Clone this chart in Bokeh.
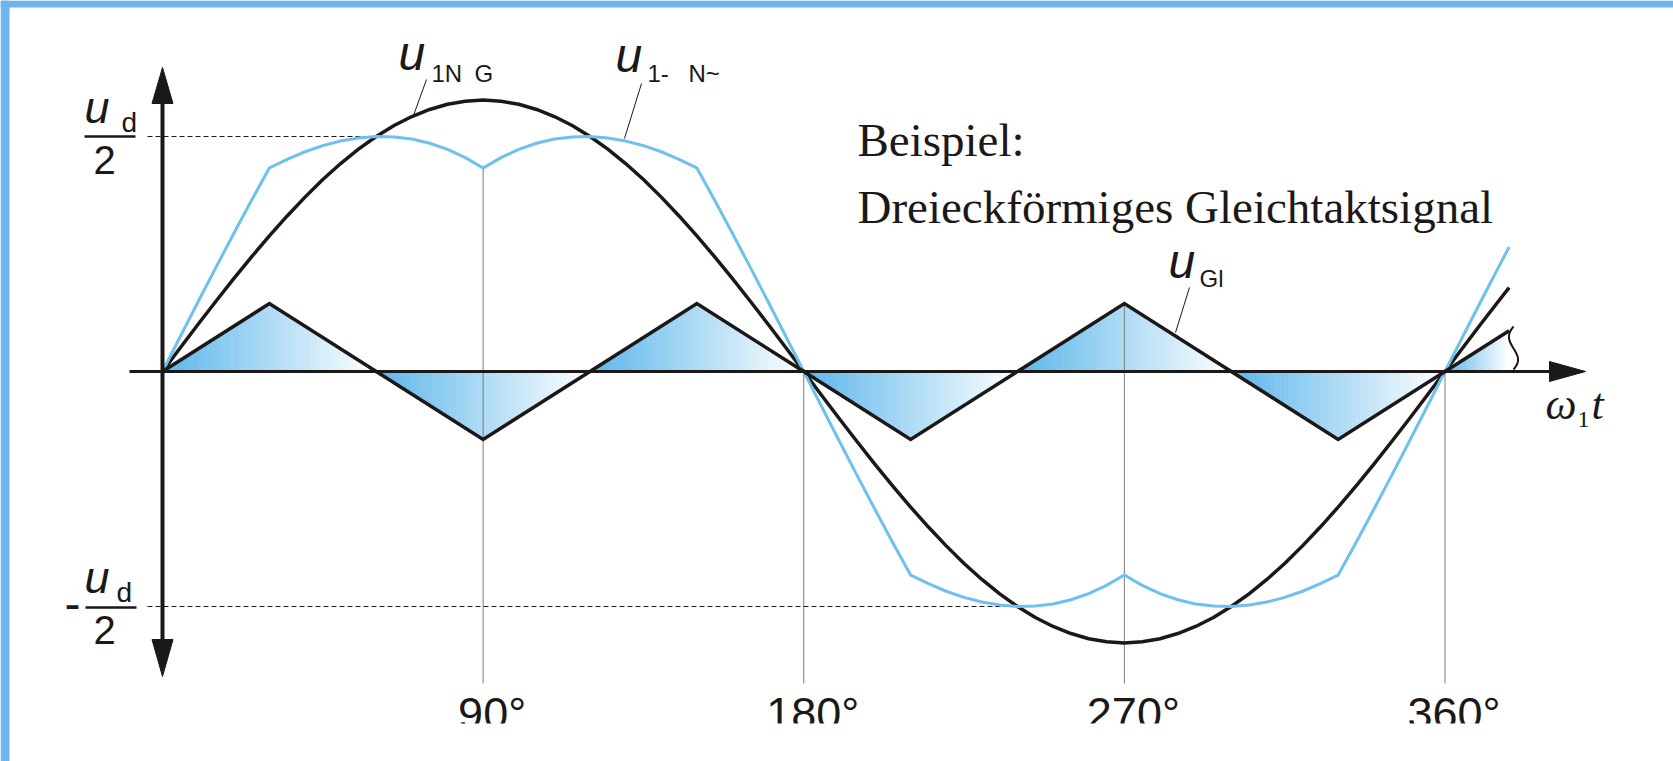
import numpy as np
from bokeh.plotting import figure
from bokeh.models import Range1d
from bokeh.core.properties import value
from bokeh.embed import file_html
from bokeh.resources import INLINE

# ---------------------------------------------------------------- data
# angle omega1*t in degrees
ANGLE = list(range(0, 380, 5)) + [378]

# phase voltage to virtual neutral G, in units of u_d/2
U_1NG = [0.000, 0.101, 0.201, 0.299, 0.395, 0.488, 0.577, 0.662, 0.742, 0.817,
         0.885, 0.946, 1.000, 1.047, 1.085, 1.115, 1.137, 1.150, 1.155, 1.150,
         1.137, 1.115, 1.085, 1.047, 1.000, 0.946, 0.885, 0.817, 0.742, 0.662,
         0.577, 0.488, 0.395, 0.299, 0.201, 0.101, 0.000,
         -0.101, -0.201, -0.299, -0.395, -0.488, -0.577, -0.662, -0.742, -0.817,
         -0.885, -0.946, -1.000, -1.047, -1.085, -1.115, -1.137, -1.150, -1.155,
         -1.150, -1.137, -1.115, -1.085, -1.047, -1.000, -0.946, -0.885, -0.817,
         -0.742, -0.662, -0.577, -0.488, -0.395, -0.299, -0.201, -0.101, 0.000,
         0.101, 0.201, 0.299, 0.357]

# resulting phase voltage u_1-N~ (sine plus common-mode triangle)
U_1N = [0.000, 0.149, 0.297, 0.443, 0.587, 0.729, 0.866, 0.903, 0.935, 0.961,
        0.981, 0.994, 1.000, 0.998, 0.989, 0.971, 0.945, 0.910, 0.866, 0.910,
        0.945, 0.971, 0.989, 0.998, 1.000, 0.994, 0.981, 0.961, 0.935, 0.903,
        0.866, 0.729, 0.587, 0.443, 0.297, 0.149, 0.000,
        -0.149, -0.297, -0.443, -0.587, -0.729, -0.866, -0.903, -0.935, -0.961,
        -0.981, -0.994, -1.000, -0.998, -0.989, -0.971, -0.945, -0.910, -0.866,
        -0.910, -0.945, -0.971, -0.989, -0.998, -1.000, -0.994, -0.981, -0.961,
        -0.935, -0.903, -0.866, -0.729, -0.587, -0.443, -0.297, -0.149, 0.000,
        0.149, 0.297, 0.443, 0.530]

# triangular common-mode signal u_Gl (corner points)
TRI_DEG = [0, 30, 60, 90, 120, 150, 180, 210, 240, 270, 300, 330, 360, 378]
U_GL = [0.0, 0.289, 0.0, -0.289, 0.0, 0.289, 0.0, -0.289, 0.0, 0.289, 0.0,
        -0.289, 0.0, 0.173]

TICK_DEG = [90, 180, 270, 360]
TICK_LABELS = ["90°", "180°", "270°", "360°"]
UD_HALF = 1.0

# ---------------------------------------------------------------- layout
W, H = 1673, 761
X0, Y0 = 162, 371          # pixel position of the origin
PX_PER_DEG = 3.5625
PX_PER_UNIT = 235
LIFT = 0.36                # baseline correction, fraction of the font size

BLACK = "#1b1817"
LIGHT = "#6ec0ef"
FRAME = "#6db5ef"
GREY = "#7d7d7d"
SANS = "Liberation Sans"
SERIF = "Liberation Serif"


def X(px):
    return (px - X0) / PX_PER_DEG


def Y(py):
    return (Y0 - py) / PX_PER_UNIT


p = figure(width=W, height=H, x_range=Range1d(X(0), X(W)),
           y_range=Range1d(Y(H), Y(0)), output_backend="svg",
           toolbar_location=None, x_axis_type=None, y_axis_type=None,
           min_border=0)
p.outline_line_color = None
p.background_fill_color = "white"
p.border_fill_color = "white"

# ---------------------------------------------------------------- gradient fill under u_Gl
tri_deg = np.array(TRI_DEG, dtype=float)
tri_val = np.array(U_GL, dtype=float)
start_rgb = np.array([0x5c, 0xb6, 0xea], dtype=float)
crossings = [d for d, v in zip(TRI_DEG, U_GL) if v == 0.0] + [TRI_DEG[-1]]
sx, sy, scol = [], [], []
n_strips = 48
for a, b in zip(crossings[:-1], crossings[1:]):
    edges = np.linspace(a, b, n_strips + 1)
    h = np.interp(edges, tri_deg, tri_val)
    for k in range(n_strips):
        t = (k + 0.5) / n_strips
        rgb = start_rgb + (255 - start_rgb) * t
        sx.append([edges[k], edges[k], edges[k + 1], edges[k + 1]])
        sy.append([0, h[k], h[k + 1], 0])
        scol.append("#%02x%02x%02x" % tuple(int(round(c)) for c in rgb))
p.patches(sx, sy, fill_color=scol, line_color=scol, line_width=0.8)

# ---------------------------------------------------------------- thin vertical guides
u1n_at = np.interp(TICK_DEG, ANGLE, U_1N)
ugl_at = np.interp(TICK_DEG, tri_deg, tri_val)
guide_top = np.maximum(np.maximum(u1n_at, ugl_at), 0.0)
p.segment(x0=TICK_DEG, y0=guide_top, x1=TICK_DEG, y1=[Y(683)] * len(TICK_DEG),
          line_color=GREY, line_width=1)

# dashed levels +-u_d/2, up to where u_1-N~ reaches them
i_max = int(np.argmax(U_1N))
i_min = int(np.argmin(U_1N))
p.line([X(147), ANGLE[i_max]], [UD_HALF, UD_HALF], line_color=BLACK,
       line_width=1, line_dash="5 3")
p.line([X(147), ANGLE[i_min]], [-UD_HALF, -UD_HALF], line_color=BLACK,
       line_width=1, line_dash="5 3")

# ---------------------------------------------------------------- curves
p.line(ANGLE, U_1NG, line_color=BLACK, line_width=3.5, line_join="round")
p.line(ANGLE, U_1N, line_color=LIGHT, line_width=3, line_join="miter")
p.line(TRI_DEG, U_GL, line_color=BLACK, line_width=3.5, line_join="miter")

# ---------------------------------------------------------------- axes with arrows
p.line([X(129), X(1552)], [0, 0], line_color=BLACK, line_width=3)
p.patch([X(1549), X(1585), X(1549)], [Y(361), Y(371), Y(381)],
        fill_color=BLACK, line_color=BLACK, line_width=1)
p.line([0, 0], [Y(100), Y(642)], line_color=BLACK, line_width=4)
p.patch([X(151.5), X(162), X(172.5)], [Y(103), Y(67), Y(103)],
        fill_color=BLACK, line_color=BLACK, line_width=1)
p.patch([X(151.5), X(162), X(172.5)], [Y(639), Y(676), Y(639)],
        fill_color=BLACK, line_color=BLACK, line_width=1)

# amplitude brace at the end of u_Gl
p.bezier(x0=[X(1513)], y0=[Y(326)], x1=[X(1513)], y1=[Y(369)],
         cx0=[X(1497)], cy0=[Y(344)], cx1=[X(1529)], cy1=[Y(352)],
         line_color=BLACK, line_width=2)

# leader lines of the curve names
p.segment(x0=[X(426), X(641), X(1189)], y0=[Y(79), Y(83), Y(287)],
          x1=[X(413), X(624), X(1175)], y1=[Y(115), Y(138), Y(332)],
          line_color=BLACK, line_width=1)

# fraction bars of u_d/2
p.segment(x0=[X(84), X(85)], y0=[Y(136), Y(607)], x1=[X(135), X(136)],
          y1=[Y(136), Y(607)], line_color=BLACK, line_width=2.5)


# ---------------------------------------------------------------- texts
def txt(px, py, s, font, size, style="normal", align="left"):
    p.text(x=[X(px)], y=[Y(py - LIFT * size)], text=[s], text_font=value(font),
           text_font_size=value(f"{size}px"), text_font_style=style,
           text_align=align, text_baseline="alphabetic", text_color=BLACK)


txt(398, 70, "u", SANS, 48, "italic")
txt(431, 82, "1N", SANS, 24)
txt(474, 82, "G", SANS, 24)

txt(615, 72, "u", SANS, 48, "italic")
txt(647, 82, "1-", SANS, 24)
txt(688, 82, "N~", SANS, 24)

txt(1168, 278, "u", SANS, 48, "italic")
txt(1199, 287, "Gl", SANS, 24)

txt(84, 123, "u", SANS, 45, "italic")
txt(121, 132, "d", SANS, 28)
txt(93, 174, "2", SANS, 40)

txt(64, 620, "-", SANS, 48)
txt(84, 593, "u", SANS, 45, "italic")
txt(116, 602, "d", SANS, 28)
txt(93, 644, "2", SANS, 40)

txt(857, 156, "Beispiel:", SERIF, 47)
txt(857, 223, "Dreieckförmiges Gleichtaktsignal", SERIF, 47)

txt(1545, 420, "ω", SERIF, 44, "italic")
txt(1577, 428, "1", SERIF, 24)
txt(1591, 420, "t", SERIF, 44, "italic")

# angle labels: digits centred on the guide, degree sign hanging right
tick_size = 45
deg_sign_shift = 0.2 * tick_size / PX_PER_DEG
p.text(x=[d + deg_sign_shift for d in TICK_DEG],
       y=[Y(729 - LIFT * tick_size)] * len(TICK_DEG),
       text=TICK_LABELS, text_font=value(SANS),
       text_font_size=value(f"{tick_size}px"), text_align="center",
       text_baseline="alphabetic", text_color=BLACK)

# ---------------------------------------------------------------- page frame
# blank strip that trims the angle labels at the bottom
p.quad(left=[X(9)], right=[X(W)], bottom=[Y(H)], top=[Y(723)],
       fill_color="white", line_color=None)
p.quad(left=[X(0)], right=[X(W)], bottom=[Y(7)], top=[Y(0)],
       fill_color=FRAME, line_color=None)
p.quad(left=[X(0)], right=[X(9)], bottom=[Y(H)], top=[Y(0)],
       fill_color=FRAME, line_color=None)

open("out.html", "w").write(file_html(p, INLINE))
